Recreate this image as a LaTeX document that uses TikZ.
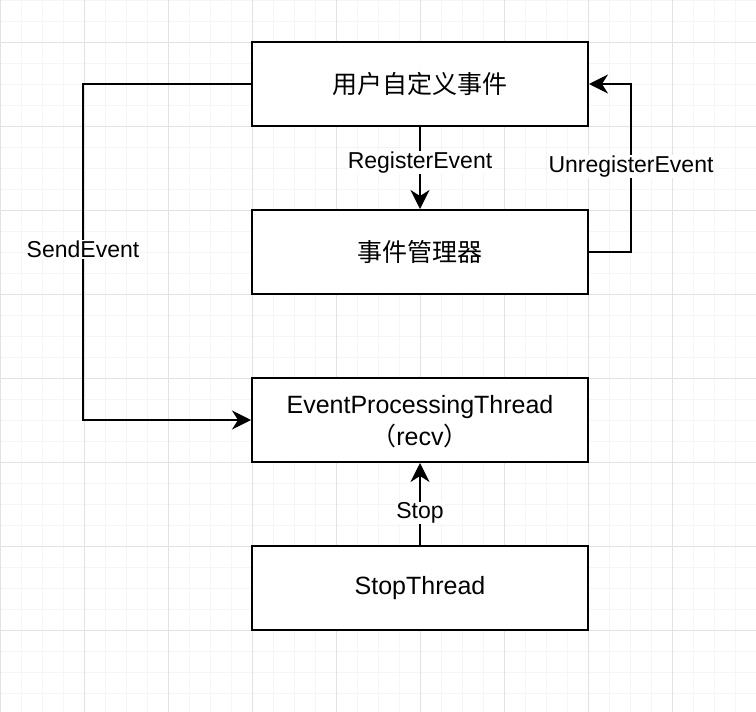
\documentclass[tikz,border=0pt]{standalone}
\usepackage{fontspec}
\setmainfont{Liberation Sans}
\newfontfamily\cjk{Noto Sans CJK SC}
\usetikzlibrary{arrows.meta}
\definecolor{gridmajor}{HTML}{E2E2E2}
\definecolor{gridminor}{HTML}{F5F5F5}
\tikzset{
  box/.style={draw, line width=2pt, fill=white, minimum width=336pt, minimum height=84pt, inner sep=0pt, align=center, font=\fontsize{25}{31}\selectfont},
  boxtext/.style={align=center, inner sep=0pt, font=\fontsize{25}{31}\selectfont},
  conn/.style={line width=2pt, -{Stealth[length=19pt, width=19pt, inset=6pt]}},
  lbl/.style={fill=white, inner sep=1pt, font=\fontsize{23}{27}\selectfont},
}
\begin{document}
\begin{tikzpicture}[x=1pt,y=-1pt]
\useasboundingbox (0,0) rectangle (756,712);
\fill[white] (0,0) rectangle (756,712);
% grid
\foreach \i in {0,21,...,756} \draw[gridminor, line width=1pt] (\i,0) -- (\i,712);
\foreach \j in {0,21,...,712} \draw[gridminor, line width=1pt] (0,\j) -- (756,\j);
\foreach \i in {0,84,...,756} \draw[gridmajor, line width=1pt] (\i,0) -- (\i,712);
\foreach \j in {42,126,...,712} \draw[gridmajor, line width=1pt] (0,\j) -- (756,\j);
% boxes
\node[box] (b1) at (420,84) {\cjk 用户自定义事件};
\node[box] (b2) at (420,252) {\cjk 事件管理器};
\node[box] (b3) at (420,420) {};
\node[boxtext] (b3t) at (420,422) {EventProcessingThread\\[1pt]{\cjk （}recv{\cjk ）}};
\node[box] (b4) at (420,588) {StopThread};
% connectors
\draw[conn] (b1.west) -- ++(-168,0) |- node[lbl, pos=0.246]{SendEvent} (b3.west);
\draw[conn] (b1.south) -- node[lbl, pos=0.43]{RegisterEvent} (b2.north);
\draw[conn] (b2.east) -- ++(42,0) |- node[lbl, pos=0.255]{UnregisterEvent} (b1.east);
\draw[conn] (b4.north) -- node[lbl, pos=0.39]{Stop} (b3.south);
\end{tikzpicture}
\end{document}
